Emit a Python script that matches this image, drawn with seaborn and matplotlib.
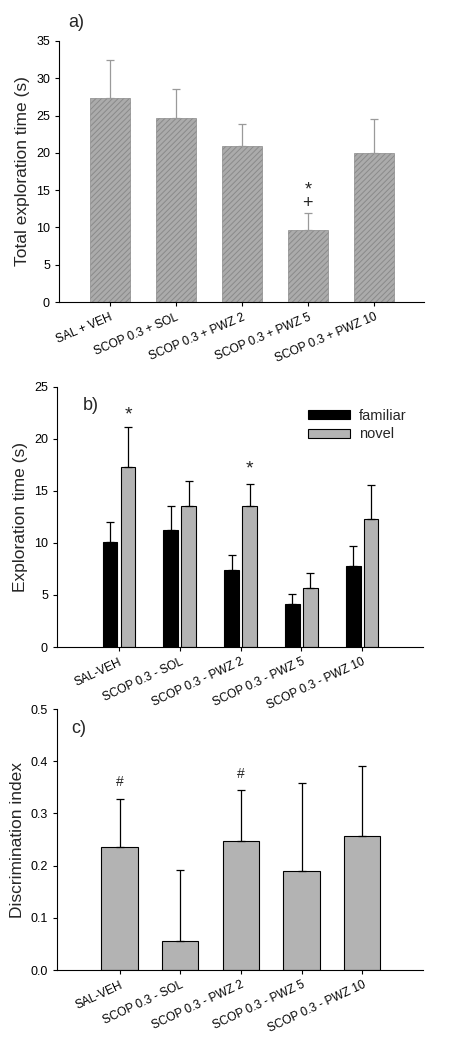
import pandas as pd
import seaborn as sns
import matplotlib.pyplot as plt

# panel a - total exploration time
groups_a = ['SAL + VEH', 'SCOP 0.3 + SOL', 'SCOP 0.3 + PWZ 2', 'SCOP 0.3 + PWZ 5', 'SCOP 0.3 + PWZ 10']
total_time = [27.3, 24.7, 20.9, 9.7, 20.0]
total_err = [5.2, 3.8, 3.0, 2.2, 4.6]

# panel b - familiar vs novel
groups_b = ['SAL-VEH', 'SCOP 0.3 - SOL', 'SCOP 0.3 - PWZ 2', 'SCOP 0.3 - PWZ 5', 'SCOP 0.3 - PWZ 10']
familiar = [10.1, 11.2, 7.4, 4.1, 7.8]
familiar_err = [1.9, 2.3, 1.4, 1.0, 1.9]
novel = [17.3, 13.5, 13.5, 5.7, 12.3]
novel_err = [3.8, 2.4, 2.2, 1.4, 3.3]

# panel c - discrimination index
disc_index = [0.235, 0.056, 0.247, 0.190, 0.257]
disc_err = [0.093, 0.135, 0.097, 0.169, 0.134]

sns.set_style('white')
plt.rcParams['font.family'] = ['Liberation Sans', 'DejaVu Sans']
plt.rcParams['hatch.linewidth'] = 0.7

fig = plt.figure(figsize=(4.49, 10.49), dpi=100)
ax_a = fig.add_axes([0.1314, 0.712, 0.813, 0.249])
ax_b = fig.add_axes([0.127, 0.3832, 0.815, 0.2482])
ax_c = fig.add_axes([0.127, 0.0753, 0.815, 0.2488])


def style_axis(ax, rot=25):
    sns.despine(ax=ax)
    for s in ['left', 'bottom']:
        ax.spines[s].set_color('black')
        ax.spines[s].set_linewidth(0.8)
    ax.tick_params(axis='both', direction='out', length=3, width=0.8, labelsize=9,
                   bottom=True, left=True, colors='black')
    for lab in ax.get_xticklabels():
        lab.set_rotation(rot)
        lab.set_ha('right')
        lab.set_rotation_mode('anchor')
        lab.set_fontsize(8.6)


def add_errors(ax, patches, errs, color):
    for p, e in zip(patches, errs):
        x = p.get_x() + p.get_width() / 2
        ax.errorbar(x, p.get_height(), yerr=[[0], [e]], fmt='none', ecolor=color,
                    elinewidth=0.9, capsize=3, capthick=0.9)


# ---- a)
df_a = pd.DataFrame({'group': groups_a, 'time': total_time})
sns.barplot(data=df_a, x='group', y='time', color='#ababab', width=0.61,
            saturation=1, ax=ax_a, errorbar=None)
for p in ax_a.patches:
    p.set_hatch('//////')
    p.set_edgecolor('#8a8a8a')
    p.set_linewidth(0.5)
add_errors(ax_a, ax_a.patches, total_err, '#9a9a9a')
ax_a.set_xlim(-0.77, 4.76)
ax_a.set_ylim(0, 35)
ax_a.set_yticks(range(0, 36, 5))
ax_a.set_xlabel('')
ax_a.set_ylabel('Total exploration time (s)', fontsize=12.5)
style_axis(ax_a, rot=23)
ax_a.text(3, 12.1, '*\n+', ha='center', va='bottom', fontsize=13, linespacing=0.75)
ax_a.text(0.025, 1.055, 'a)', transform=ax_a.transAxes, fontsize=13)

# ---- b)
df_b = pd.DataFrame({
    'group': groups_b * 2,
    'time': familiar + novel,
    'object': ['familiar'] * 5 + ['novel'] * 5,
})
sns.barplot(data=df_b, x='group', y='time', hue='object',
            palette={'familiar': 'black', 'novel': '#b3b3b3'}, saturation=1,
            width=0.59, gap=0.18, edgecolor='black', linewidth=0.8,
            errorbar=None, ax=ax_b)
bars_b = [p for p in ax_b.patches if p.get_height() > 0][:10]
add_errors(ax_b, bars_b, familiar_err + novel_err, 'black')
ax_b.set_xlim(-1.02, 5.0)
ax_b.set_ylim(0, 25)
ax_b.set_yticks(range(0, 26, 5))
ax_b.set_xlabel('')
ax_b.set_ylabel('Exploration time (s)', fontsize=12.5)
style_axis(ax_b)
for p, y in [(bars_b[5], 22.3), (bars_b[7], 17.1)]:
    ax_b.text(p.get_x() + p.get_width() / 2, y, '*', ha='center', va='center', fontsize=14)
ax_b.text(0.07, 0.91, 'b)', transform=ax_b.transAxes, fontsize=13)
ax_b.legend(loc='upper left', bbox_to_anchor=(0.65, 0.965), frameon=False,
            fontsize=10.5, handlelength=2.9, handleheight=0.6, labelspacing=0.3,
            handletextpad=0.6)

# ---- c)
df_c = pd.DataFrame({'group': groups_b, 'di': disc_index})
sns.barplot(data=df_c, x='group', y='di', color='#b3b3b3', saturation=1,
            width=0.6, edgecolor='black', linewidth=0.8, errorbar=None, ax=ax_c)
add_errors(ax_c, ax_c.patches, disc_err, 'black')
ax_c.set_xlim(-1.03, 5.0)
ax_c.set_ylim(0, 0.5)
ax_c.set_yticks([0.0, 0.1, 0.2, 0.3, 0.4, 0.5])
ax_c.set_yticklabels(['0.0', '0.1', '0.2', '0.3', '0.4', '0.5'])
ax_c.set_xlabel('')
ax_c.set_ylabel('Discrimination index', fontsize=12.5)
style_axis(ax_c)
ax_c.text(0, 0.361, '#', ha='center', va='center', fontsize=10)
ax_c.text(2, 0.375, '#', ha='center', va='center', fontsize=10)
ax_c.text(0.04, 0.91, 'c)', transform=ax_c.transAxes, fontsize=13)

fig.savefig('out.png', dpi=100)
